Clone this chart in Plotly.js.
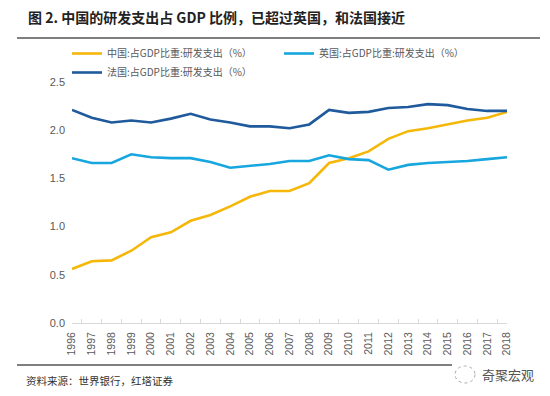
<!DOCTYPE html>
<html>
<head>
<meta charset="utf-8">
<script src="https://cdn.plot.ly/plotly-3.0.1.min.js"></script>
<style>html,body{margin:0;padding:0;background:#fff;}#chart{width:550px;height:396px;}</style>
</head>
<body>
<div id="chart"></div>
<script>
const years = ['1996','1997','1998','1999','2000','2001','2002','2003','2004','2005','2006','2007','2008','2009','2010','2011','2012','2013','2014','2015','2016','2017','2018'];
const china = [0.56,0.64,0.65,0.75,0.89,0.94,1.06,1.12,1.21,1.31,1.37,1.37,1.45,1.66,1.71,1.78,1.91,1.99,2.02,2.06,2.10,2.13,2.19];
const uk = [1.71,1.66,1.66,1.75,1.72,1.71,1.71,1.67,1.61,1.63,1.65,1.68,1.68,1.74,1.70,1.69,1.59,1.64,1.66,1.67,1.68,1.70,1.72];
const france = [2.21,2.13,2.08,2.10,2.08,2.12,2.17,2.11,2.08,2.04,2.04,2.02,2.06,2.21,2.18,2.19,2.23,2.24,2.27,2.26,2.22,2.20,2.20];
const seriesNames = ['中国:占GDP比重:研发支出（%）','英国:占GDP比重:研发支出（%）','法国:占GDP比重:研发支出（%）'];
const yTicks = [0,0.5,1.0,1.5,2.0,2.5];

const cjk = '"Noto Sans CJK SC", "Noto Sans", sans-serif';
const colors = ['#F5B70A','#17A6DE','#1E5A9C'];
const data = [china, uk, france].map((v,i)=>({
  type:'scatter', mode:'lines', x: years, y: v, name: seriesNames[i],
  line:{color: colors[i], width: 2.6}
}));

// pixel -> paper helpers (plot area: x 72..507, y 82..323)
const px = p => (p-72)/435;
const py = p => (323-p)/241;

const layout = {
  width:550, height:396,
  margin:{l:72, r:43, t:82, b:73},
  paper_bgcolor:'#fff', plot_bgcolor:'#fff',
  font:{family:cjk, color:'#595959'},
  showlegend:true,
  legend:{orientation:'h', x:px(67), xanchor:'left', y:py(39), yanchor:'top',
    entrywidth:167, entrywidthmode:'pixels', itemwidth:30,
    font:{size:10, color:'#595959', family:cjk}, tracegroupgap:0, bgcolor:'rgba(0,0,0,0)'},
  xaxis:{type:'category', tickangle:-90, tickfont:{size:10.5, color:'#595959', family:'"Liberation Sans", Arial, sans-serif'},
    showgrid:false, zeroline:false, showline:true, linecolor:'#D9D9D9', linewidth:1, ticklabelstandoff:4,
    ticks:'inside', tickson:'boundaries', ticklen:4, tickcolor:'#D9D9D9', fixedrange:true},
  yaxis:{range:[0,2.5], tickvals:yTicks, tickformat:'.1f', showgrid:false, zeroline:false, showline:false,
    tickfont:{size:11, color:'#595959', family:'"Liberation Sans", Arial, sans-serif'}, ticks:'', ticklabelstandoff:6, fixedrange:true},
  shapes:[
    {type:'line', xref:'paper', yref:'paper', x0:px(17), x1:px(540), y0:py(38), y1:py(38), line:{color:'#7F7F7F', width:2}},
    {type:'line', xref:'paper', yref:'paper', x0:px(17), x1:px(452), y0:py(365), y1:py(365), line:{color:'#7F7F7F', width:2}},
    {type:'circle', xref:'paper', yref:'paper', x0:px(455), x1:px(475), y0:py(383), y1:py(366), line:{color:'#AAAAAA', width:1, dash:'dot'}}
  ],
  annotations:[
    {xref:'paper', yref:'paper', x:px(26), y:py(17), xanchor:'left', yanchor:'middle', showarrow:false,
      text:'<b>图 2. 中国的研发支出占 GDP 比例，已超过英国，和法国接近</b>', font:{size:14, color:'#222', family:cjk}},
    {xref:'paper', yref:'paper', x:px(24), y:py(380), xanchor:'left', yanchor:'middle', showarrow:false,
      text:'资料来源：世界银行，红塔证券', font:{size:10.5, color:'#333', family:cjk}},
    {xref:'paper', yref:'paper', x:px(480), y:py(374), xanchor:'left', yanchor:'middle', showarrow:false,
      text:'奇聚宏观', font:{size:13, color:'#555', family:cjk}}
  ]
};
Plotly.newPlot('chart', data, layout, {displayModeBar:false, staticPlot:true});
</script>
</body>
</html>
